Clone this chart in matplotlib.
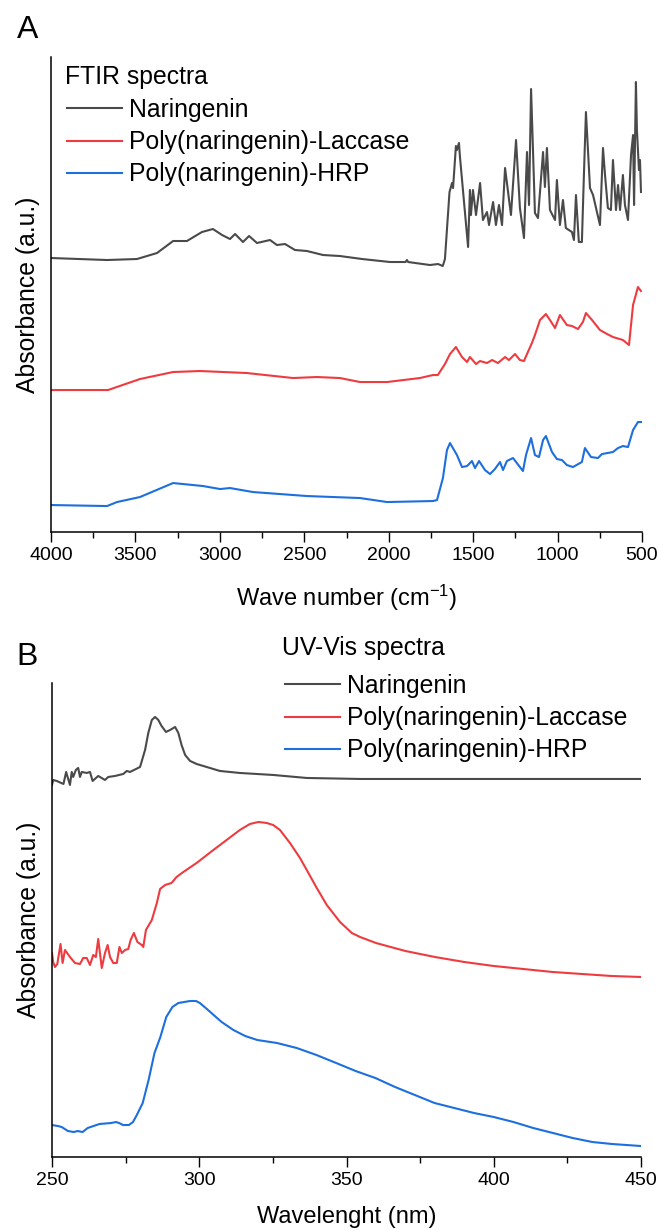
import matplotlib
matplotlib.use("Agg")
import matplotlib.pyplot as plt
from matplotlib.ticker import MultipleLocator

plt.rcParams['font.family'] = ['Liberation Sans', 'DejaVu Sans']
plt.rcParams['mathtext.fontset'] = 'custom'
plt.rcParams['mathtext.rm'] = 'Liberation Sans'
plt.rcParams['mathtext.it'] = 'Liberation Sans'

# ---------------- Panel A: FTIR ----------------
ftir_nar_wn = [4000, 3668, 3491, 3372, 3277, 3195, 3106, 3041, 2987, 2940, 2910, 2863, 2827, 2780,
               2703, 2662, 2614, 2555, 2484, 2389, 2289, 2158, 1992, 1900, 1892, 1885, 1756, 1708,
               1680, 1667, 1640, 1625, 1619, 1602, 1596, 1584, 1578, 1530, 1519, 1513, 1501, 1483,
               1459, 1442, 1418, 1406, 1382, 1365, 1347, 1329, 1311, 1276, 1246, 1223, 1199, 1181,
               1169, 1157, 1134, 1116, 1086, 1075, 1063, 1045, 1015, 1004, 986, 968, 951, 915, 903,
               891, 874, 856, 844, 832, 820, 808, 790, 749, 731, 719, 702, 684, 672, 654, 642, 630,
               613, 601, 583, 565, 553, 547, 536, 530, 518, 512, 506]
ftir_nar_abs = [2.74, 2.72, 2.73, 2.79, 2.91, 2.91, 3.00, 3.03, 2.97, 2.93, 2.98, 2.90, 2.96, 2.89,
                2.92, 2.87, 2.88, 2.82, 2.81, 2.77, 2.76, 2.73, 2.70, 2.70, 2.72, 2.70, 2.67, 2.68,
                2.66, 2.73, 3.40, 3.49, 3.44, 3.86, 3.82, 3.89, 3.75, 2.85, 3.42, 3.17, 3.42, 3.17,
                3.49, 3.12, 3.20, 3.07, 3.30, 3.07, 3.27, 3.07, 3.64, 3.17, 3.92, 3.24, 2.94, 3.80,
                3.27, 4.43, 3.19, 3.14, 3.80, 3.45, 3.84, 3.22, 3.12, 3.52, 3.07, 3.32, 3.04, 3.00, 2.92,
                3.37, 2.90, 2.90, 3.57, 4.20, 3.82, 3.44, 3.37, 3.07, 3.84, 3.57, 3.24, 3.22, 3.72, 3.22,
                3.47, 3.22, 3.57, 3.27, 3.12, 3.77, 3.97, 3.27, 4.50, 4.02, 3.62, 3.72, 3.40]

ftir_lac_wn = [4000, 3662, 3473, 3277, 3118, 2840, 2567, 2425, 2289, 2170, 2010, 1815, 1738, 1709,
               1667, 1637, 1602, 1566, 1536, 1519, 1483, 1459, 1418, 1388, 1353, 1311, 1288, 1252,
               1223, 1199, 1181, 1152, 1134, 1104, 1069, 1045, 1015, 986, 945, 915, 879, 850, 832,
               796, 749, 707, 672, 613, 577, 553, 524, 506]
ftir_lac_abs = [1.42, 1.42, 1.53, 1.60, 1.61, 1.59, 1.54, 1.55, 1.54, 1.50, 1.50, 1.54, 1.57, 1.57,
                1.68, 1.78, 1.85, 1.75, 1.70, 1.75, 1.68, 1.71, 1.69, 1.72, 1.69, 1.75, 1.72, 1.78,
                1.72, 1.71, 1.78, 1.89, 1.97, 2.12, 2.18, 2.12, 2.04, 2.17, 2.07, 2.06, 2.03, 2.10, 2.19,
                2.12, 2.02, 1.98, 1.95, 1.92, 1.87, 2.27, 2.45, 2.41]

ftir_hrp_wn = [4000, 3668, 3609, 3473, 3277, 3218, 3100, 2999, 2940, 2804, 2484, 2170, 2010, 1738,
               1714, 1679, 1655, 1637, 1596, 1566, 1536, 1507, 1489, 1465, 1430, 1400, 1371, 1341,
               1323, 1300, 1264, 1223, 1205, 1187, 1157, 1134, 1110, 1086, 1069, 1033, 1004, 974,
               945, 909, 856, 838, 802, 761, 737, 672, 642, 613, 583, 553, 524, 506]
ftir_hrp_abs = [0.27, 0.26, 0.30, 0.35, 0.49, 0.48, 0.46, 0.43, 0.44, 0.40, 0.36, 0.34, 0.30, 0.31,
                0.32, 0.54, 0.82, 0.89, 0.77, 0.65, 0.66, 0.71, 0.64, 0.71, 0.62, 0.58, 0.63, 0.70,
                0.62, 0.71, 0.74, 0.65, 0.61, 0.77, 0.94, 0.77, 0.75, 0.92, 0.96, 0.80, 0.73, 0.72,
                0.67, 0.65, 0.70, 0.84, 0.75, 0.74, 0.78, 0.80, 0.84, 0.86, 0.85, 1.02, 1.10, 1.10]

# ---------------- Panel B: UV-Vis ----------------
uv_nar_nm = [250.0, 250.4, 251.6, 253.9, 254.8, 256.1, 256.7, 257.2, 258.1, 258.9, 259.5, 260.1,
             261.8, 262.9, 263.8, 265.7, 268.0, 269.1, 271.4, 274.2, 275.4, 276.5, 279.9, 281.6,
             282.7, 283.9, 285.0, 286.1, 287.2, 288.7, 290.1, 291.8, 292.9, 294.0, 295.2, 296.9,
             299.1, 302.5, 307.0, 313.8, 325.1, 336.5, 354.6, 400.0, 450.0]
uv_nar_abs = [3.72, 3.77, 3.76, 3.73, 3.85, 3.72, 3.85, 3.80, 3.87, 3.89, 3.80, 3.85,
              3.84, 3.85, 3.76, 3.81, 3.77, 3.80, 3.81, 3.83, 3.86, 3.85, 3.90, 4.07,
              4.24, 4.37, 4.40, 4.37, 4.31, 4.25, 4.27, 4.30, 4.24, 4.12, 4.02, 3.96,
              3.93, 3.90, 3.86, 3.84, 3.82, 3.79, 3.78, 3.78, 3.78]

uv_lac_nm = [250.0, 250.4, 251.0, 251.8, 252.9, 253.6, 254.4, 256.1, 257.8, 259.5, 260.6, 261.8,
             262.9, 264.0, 264.9, 265.7, 266.9, 268.0, 268.9, 269.7, 270.8, 272.0, 272.9, 273.7,
             274.8, 275.9, 276.7, 277.8, 279.0, 280.5, 281.0, 281.9, 283.9, 285.6, 286.7, 288.4,
             290.6, 292.3, 294.6, 299.1, 304.8, 309.3, 313.8, 317.2, 320.1, 322.9, 325.1, 327.4,
             330.8, 334.2, 336.5, 339.9, 343.3, 347.8, 351.8, 354.6, 360, 370, 380, 390, 400, 410,
             420, 430, 440, 450]
uv_lac_abs = [2.04, 1.95, 1.90, 1.93, 2.13, 1.94, 2.07, 2.00, 1.94, 1.93, 1.99, 1.99,
              1.92, 2.02, 2.00, 2.18, 1.89, 2.04, 2.12, 2.00, 1.94, 1.94, 2.10, 2.04,
              2.07, 2.08, 2.17, 2.24, 2.15, 2.12, 2.10, 2.27, 2.37, 2.54, 2.68, 2.72,
              2.74, 2.80, 2.85, 2.94, 3.07, 3.17, 3.27, 3.33, 3.35, 3.34, 3.32, 3.27,
              3.14, 2.99, 2.87, 2.69, 2.52, 2.35, 2.24, 2.20, 2.14, 2.06, 2.00, 1.95, 1.91, 1.88,
              1.85, 1.83, 1.81, 1.80]

uv_hrp_nm = [250.0, 252.0, 253.3, 255.4, 257.4, 258.7, 260.4, 262.1, 264.1, 266.1, 270.1, 271.7,
             272.8, 274.1, 276.1, 277.5, 278.8, 280.8, 282.8, 284.8, 286.8, 288.8, 290.9, 292.9,
             294.9, 296.9, 298.9, 300.2, 302.2, 304.9, 307.6, 311.6, 315.6, 319.7, 326.4, 333.1,
             339.8, 346.5, 353.1, 359.8, 366.5, 373.2, 379.9, 386.6, 393.3, 400.0, 406.7, 413.4,
             420.1, 426.8, 433.5, 440.2, 450.0]
uv_hrp_abs = [0.32, 0.31, 0.30, 0.26, 0.25, 0.26, 0.25, 0.29, 0.31, 0.33, 0.34, 0.35,
              0.34, 0.32, 0.32, 0.35, 0.42, 0.54, 0.77, 1.04, 1.20, 1.40, 1.50, 1.54,
              1.55, 1.56, 1.56, 1.54, 1.49, 1.42, 1.35, 1.27, 1.21, 1.17, 1.14, 1.09,
              1.02, 0.94, 0.86, 0.79, 0.70, 0.62, 0.54, 0.49, 0.44, 0.40, 0.35, 0.29,
              0.24, 0.19, 0.15, 0.13, 0.11]

series_labels = ["Naringenin", "Poly(naringenin)-Laccase", "Poly(naringenin)-HRP"]
colors = ["#4a4a4a", "#ee3b3f", "#1d6fde"]

W, H = 659, 1231
fig = plt.figure(figsize=(W / 100, H / 100), dpi=100)
axA = fig.add_axes([0.0774, 0.5678, 0.8968, 0.3859])
axB = fig.add_axes([0.0789, 0.0601, 0.8938, 0.3851])

LW = 1.5
for x, y, c, lab in zip([ftir_nar_wn, ftir_lac_wn, ftir_hrp_wn],
                        [ftir_nar_abs, ftir_lac_abs, ftir_hrp_abs], colors, series_labels):
    axA.plot(x, y, color=c, lw=LW, label=lab)
for x, y, c, lab in zip([uv_nar_nm, uv_lac_nm, uv_hrp_nm],
                        [uv_nar_abs, uv_lac_abs, uv_hrp_abs], colors, series_labels):
    axB.plot(x, y, color=c, lw=LW, label=lab)

axA.set_xlim(4000, 500)
axA.set_ylim(0, 4.75)
axB.set_xlim(250, 450)
axB.set_ylim(0, 4.74)
axA.xaxis.set_major_locator(MultipleLocator(500))
axA.xaxis.set_minor_locator(MultipleLocator(250))
axB.xaxis.set_major_locator(MultipleLocator(50))
axB.xaxis.set_minor_locator(MultipleLocator(25))

for ax in (axA, axB):
    ax.spines['top'].set_visible(False)
    ax.spines['right'].set_visible(False)
    ax.spines['left'].set_linewidth(1.1)
    ax.spines['bottom'].set_linewidth(1.1)
    ax.set_yticks([])
    ax.tick_params(axis='x', which='major', direction='out', length=7, width=1.0,
                   labelsize=14, pad=4)
    ax.tick_params(axis='x', which='minor', direction='out', length=4, width=1.0)
    ax.set_ylabel("Absorbance (a.u.)", fontsize=17.8, labelpad=8)

axA.set_xlabel("Wave number (cm$^{\\mathrm{-1}}$)", fontsize=17, labelpad=13)
axB.set_xlabel("Wavelenght (nm)", fontsize=17, labelpad=12)

FS = 17.8
legkw = dict(loc='upper left', bbox_transform=fig.transFigure, frameon=False, fontsize=FS,
             handlelength=2.22, handletextpad=0.28, labelspacing=0.33,
             borderpad=0, borderaxespad=0)
axA.legend(bbox_to_anchor=(67 / W, 1 - 98 / H), **legkw)
axB.legend(bbox_to_anchor=(285 / W, 1 - 674 / H), **legkw)

fig.text(65 / W, 1 - 77 / H, "FTIR spectra", fontsize=FS, ha='left', va='center')
fig.text(282 / W, 1 - 648 / H, "UV-Vis spectra", fontsize=FS, ha='left', va='center')

fig.text(28 / W, 1 - 30 / H, "A", fontsize=23, ha='center', va='center')
fig.text(27 / W, 1 - 657 / H, "B", fontsize=23, ha='center', va='center')

fig.savefig("out.png", dpi=100)
